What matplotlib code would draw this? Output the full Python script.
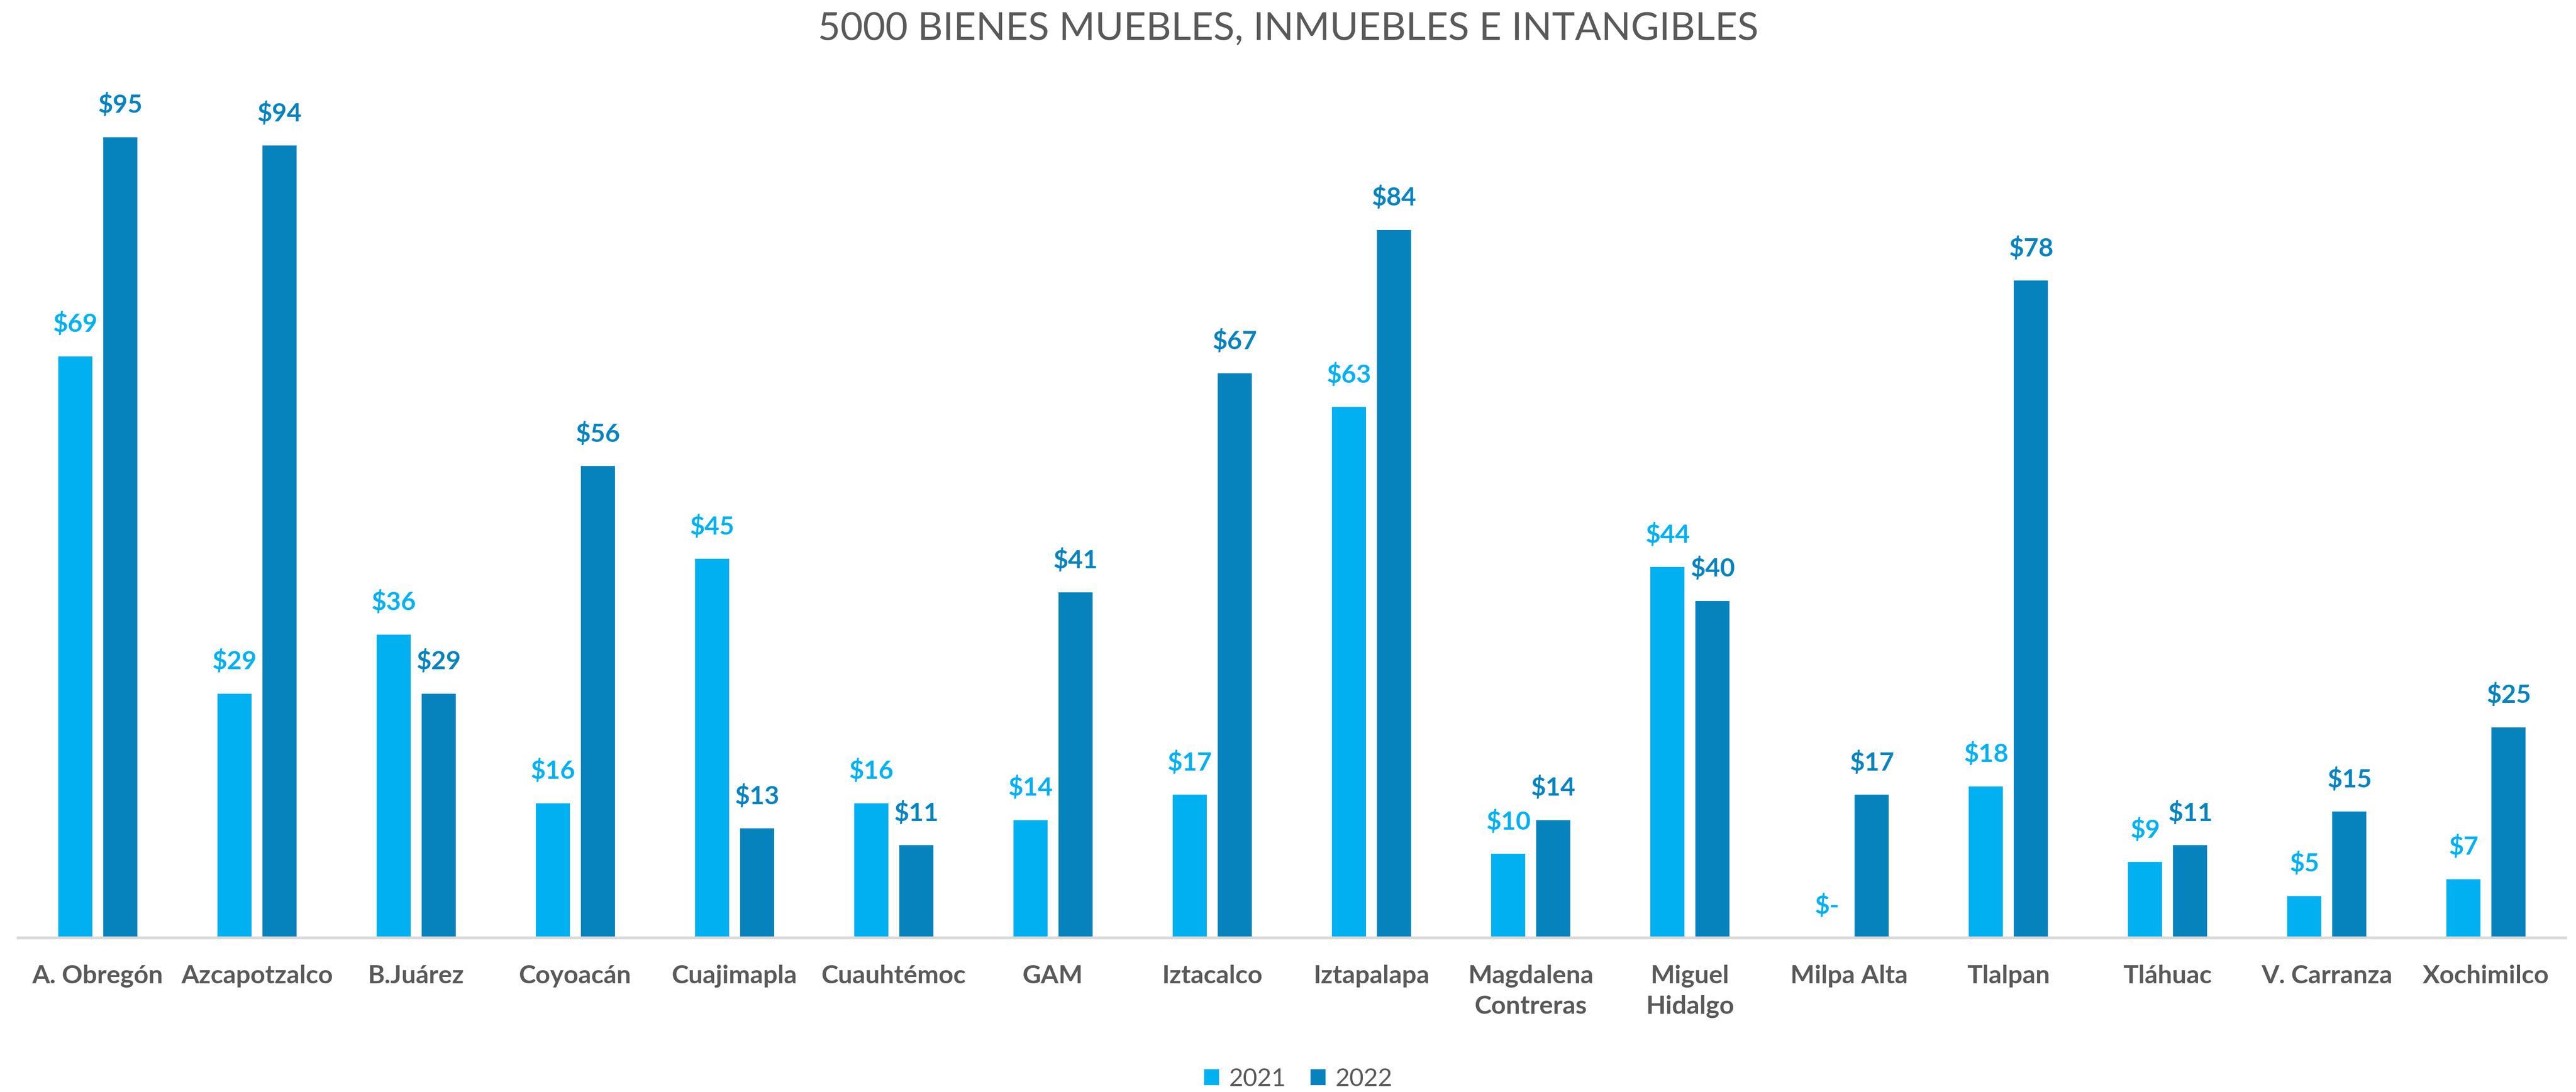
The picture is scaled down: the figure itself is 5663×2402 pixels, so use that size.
"""Grouped bar chart: 5000 Bienes muebles, inmuebles e intangibles (2021 vs 2022)."""
import matplotlib

matplotlib.use("Agg")
import matplotlib.pyplot as plt
import numpy as np

plt.rcParams["font.family"] = ["Lato", "DejaVu Sans"]

alcaldias = [
    "A. Obregón", "Azcapotzalco", "B.Juárez", "Coyoacán", "Cuajimapla",
    "Cuauhtémoc", "GAM", "Iztacalco", "Iztapalapa", "Magdalena\nContreras",
    "Miguel\nHidalgo", "Milpa Alta", "Tlalpan", "Tláhuac", "V. Carranza",
    "Xochimilco",
]
monto_2021 = [69, 29, 36, 16, 45, 16, 14, 17, 63, 10, 44, 0, 18, 9, 5, 7]
monto_2022 = [95, 94, 29, 56, 13, 11, 41, 67, 84, 14, 40, 17, 78, 11, 15, 25]
series = ["2021", "2022"]

C21 = "#00B0F0"
C22 = "#0683BD"
GRIS = "#595959"


def fmt(v):
    return "$-" if v == 0 else f"${v:.0f}"


fig = plt.figure(figsize=(5663 / 300, 2402 / 300), dpi=300)
ax = fig.add_axes([0.007, 0.141, 0.989, 0.772])

x = np.arange(len(alcaldias))
w = 0.214
off = 0.1414
b1 = ax.bar(x - off, monto_2021, w, color=C21, label=series[0])
b2 = ax.bar(x + off, monto_2022, w, color=C22, label=series[1])

for bars, vals, c in ((b1, monto_2021, C21), (b2, monto_2022, C22)):
    for bar, v in zip(bars, vals):
        ax.annotate(fmt(v), (bar.get_x() + bar.get_width() / 2, v),
                    xytext=(0, 17), textcoords="offset points",
                    ha="center", va="center", color=c,
                    fontsize=13.5, fontweight="bold")

ax.set_xlim(-0.5, len(alcaldias) - 0.5)
ax.set_ylim(0, 100)
ax.set_xticks(x)
ax.set_xticklabels(alcaldias, fontsize=13.5, fontweight="bold", color=GRIS,
                   linespacing=1.4, va="top")
ax.tick_params(axis="x", length=0, pad=14)
ax.set_yticks([])
for s in ("top", "left", "right"):
    ax.spines[s].set_visible(False)
ax.spines["bottom"].set_color("#D9D9D9")
ax.spines["bottom"].set_linewidth(1.5)

fig.text(0.5, 0.973, "5000 BIENES MUEBLES, INMUEBLES E INTANGIBLES",
         ha="center", va="center", fontsize=20.5, color=GRIS)

fig.legend(handles=[b1, b2], labels=series, loc="center",
           bbox_to_anchor=(0.504, 0.012), ncol=2, frameon=False,
           fontsize=13, labelcolor=GRIS, handlelength=0.6, handleheight=0.6,
           handletextpad=0.4, columnspacing=1.0)

fig.savefig("out.png", dpi=300, facecolor="white")
